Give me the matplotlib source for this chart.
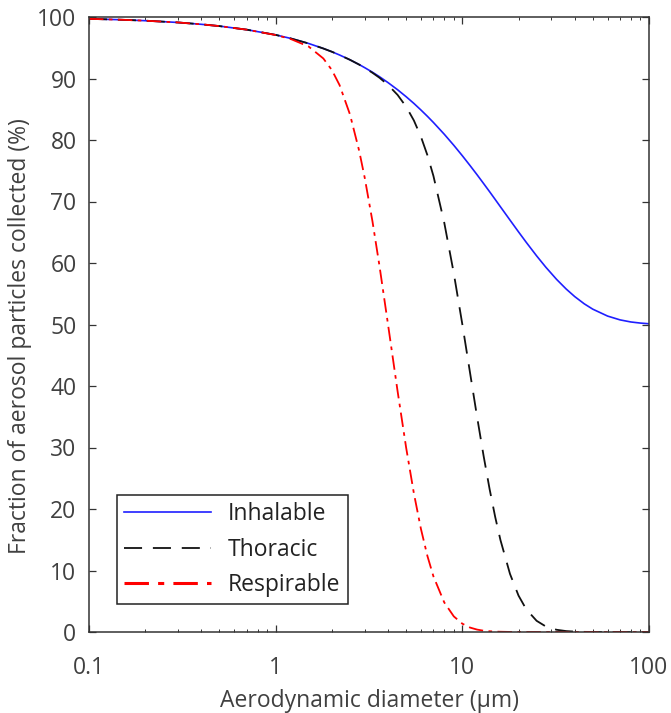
import matplotlib
matplotlib.use("Agg")
import matplotlib.pyplot as plt

# Aerodynamic diameter (um)
diam = [0.1, 0.15, 0.2, 0.3, 0.4, 0.5, 0.7, 1.0, 1.2, 1.5, 1.8, 2.0, 2.2, 2.5, 2.8,
        3.0, 3.3, 3.6, 4.0, 4.5, 5.0, 5.5, 6.0, 6.5, 7.0, 8.0, 9.0, 10, 11, 12, 13,
        14, 15, 16, 18, 20, 22, 25, 28, 32, 36, 40, 45, 50, 60, 70, 80, 90, 100]

inhalable = [99.70, 99.55, 99.40, 99.11, 98.81, 98.52, 97.94, 97.09, 96.53, 95.70,
             94.88, 94.35, 93.82, 93.04, 92.27, 91.76, 91.02, 90.29, 89.33, 88.17,
             87.04, 85.95, 84.88, 83.85, 82.85, 80.94, 79.14, 77.44, 75.84, 74.34,
             72.92, 71.59, 70.33, 69.14, 66.98, 65.06, 63.36, 61.16, 59.32, 57.33,
             55.77, 54.54, 53.36, 52.49, 51.37, 50.75, 50.41, 50.23, 50.12]

thoracic = [99.70, 99.55, 99.40, 99.11, 98.81, 98.52, 97.94, 97.09, 96.53, 95.70,
            94.88, 94.35, 93.82, 93.04, 92.26, 91.72, 90.93, 90.12, 88.95, 87.33,
            85.42, 83.18, 80.54, 77.53, 74.16, 66.57, 58.33, 50.03, 42.13, 34.94,
            28.63, 23.23, 18.70, 14.96, 9.45, 5.92, 3.69, 1.82, 0.90, 0.36,
            0.15, 0.06, 0.02, 0.01, 0.0, 0.0, 0.0, 0.0, 0.0]

respirable = [99.70, 99.55, 99.40, 99.11, 98.81, 98.52, 97.94, 97.07, 96.44, 95.21,
              93.26, 91.38, 88.92, 84.17, 78.27, 73.85, 66.78, 59.49, 49.97, 39.14,
              29.97, 22.56, 16.77, 12.36, 9.05, 4.81, 2.54, 1.35, 0.72, 0.39,
              0.21, 0.12, 0.07, 0.04, 0.01, 0.0, 0.0, 0.0, 0.0, 0.0,
              0.0, 0.0, 0.0, 0.0, 0.0, 0.0, 0.0, 0.0, 0.0]

series_labels = ["Inhalable", "Thoracic", "Respirable"]
x_ticks = [0.1, 1, 10, 100]
x_ticklabels = ["0.1", "1", "10", "100"]
y_ticks = list(range(0, 101, 10))

plt.rcParams['font.family'] = ['Open Sans', 'DejaVu Sans']
txt = '#404040'
fs = 16.5

fig = plt.figure(figsize=(6.71, 7.13), dpi=100)
ax = fig.add_axes([89/671, 1-632/713, 560/671, 615/713])

l1, = ax.plot(diam, inhalable, color='#1f1fff', lw=1.2, label=series_labels[0])
l2, = ax.plot(diam, thoracic, color='#111111', lw=1.3, dashes=(10, 6), label=series_labels[1])
l3, = ax.plot(diam, respirable, color='#ff0000', lw=1.3, dashes=(8, 3, 2, 3), label=series_labels[2])

ax.set_xscale('log')
ax.set_xlim(0.1, 100)
ax.set_ylim(0, 100)
ax.set_xticks(x_ticks)
ax.set_xticklabels(x_ticklabels)
ax.set_yticks(y_ticks)

for s in ax.spines.values():
    s.set_color('#333333')
    s.set_linewidth(1.1)

ax.tick_params(which='both', direction='in', top=True, right=True, colors='#333333',
               labelcolor=txt, labelsize=fs)
ax.tick_params(which='major', length=5, width=0.9)
ax.tick_params(which='minor', length=2.5, width=0.7)
ax.tick_params(axis='x', which='major', pad=17)
ax.tick_params(axis='y', which='major', pad=9)

ax.set_xlabel('Aerodynamic diameter (µm)', fontsize=fs, color=txt, labelpad=7)
ax.set_ylabel('Fraction of aerosol particles collected (%)', fontsize=fs, color=txt)
ax.yaxis.set_label_coords(-0.101, 0.481)

leg = ax.legend(loc='lower left', bbox_to_anchor=(0.05, 0.0455), borderaxespad=0,
                fancybox=False, framealpha=1, edgecolor='#222222', fontsize=fs,
                handlelength=3.8, handletextpad=0.75, labelspacing=0.5,
                borderpad=0.3)
leg.get_frame().set_linewidth(1.1)
for t in leg.get_texts():
    t.set_color('#222222')
handles = leg.legend_handles
handles[2].set_linewidth(2.2)

fig.savefig('out.png', dpi=100)
